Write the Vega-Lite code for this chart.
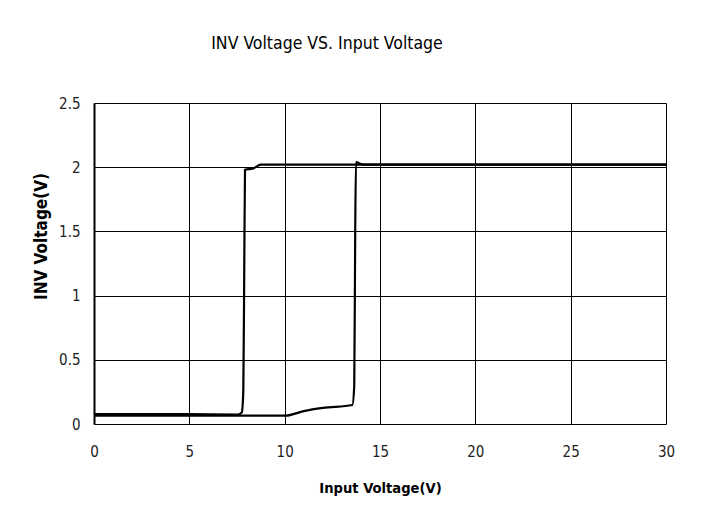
{
  "$schema": "https://vega.github.io/schema/vega-lite/v6.json",
  "width": 572,
  "height": 321,
  "autosize": {"type": "none"},
  "padding": {"left": 94, "top": 103, "right": 37, "bottom": 95},
  "background": "white",
  "title": {
    "text": "INV Voltage VS. Input Voltage",
    "anchor": "middle",
    "frame": "group",
    "dx": -53,
    "offset": 44,
    "font": "DejaVu Sans Condensed, Liberation Sans, sans-serif",
    "fontSize": 17.5,
    "fontWeight": "normal",
    "color": "#000"
  },
  "config": {
    "view": {"stroke": null},
    "font": "DejaVu Sans Condensed, Liberation Sans, sans-serif",
    "axis": {
      "grid": true,
      "gridColor": "#000",
      "gridOpacity": 1,
      "gridWidth": 1,
      "ticks": false,
      "labelColor": "#222",
      "labelFont": "DejaVu Sans Condensed, Liberation Sans, sans-serif",
      "labelFontSize": 15,
      "labelFlush": false,
      "titleFont": "DejaVu Sans Condensed, Liberation Sans, sans-serif",
      "titleFontSize": 14.6,
      "titleFontWeight": "bold",
      "titleColor": "#000"
    }
  },
  "data": {
    "values": [
      {"series": "A", "order": 1, "x": 0, "y": 0.078},
      {"series": "A", "order": 2, "x": 5, "y": 0.077},
      {"series": "A", "order": 3, "x": 7.55, "y": 0.074},
      {"series": "A", "order": 4, "x": 7.75, "y": 0.09},
      {"series": "A", "order": 5, "x": 7.83, "y": 0.25},
      {"series": "A", "order": 6, "x": 7.88, "y": 1.2},
      {"series": "A", "order": 7, "x": 7.92, "y": 1.98},
      {"series": "A", "order": 8, "x": 8.35, "y": 1.99},
      {"series": "A", "order": 9, "x": 8.75, "y": 2.02},
      {"series": "A", "order": 10, "x": 30, "y": 2.02},
      {"series": "B", "order": 1, "x": 0, "y": 0.066},
      {"series": "B", "order": 2, "x": 7.8, "y": 0.066},
      {"series": "B", "order": 3, "x": 10.05, "y": 0.065},
      {"series": "B", "order": 4, "x": 11, "y": 0.1},
      {"series": "B", "order": 5, "x": 12, "y": 0.125},
      {"series": "B", "order": 6, "x": 13.55, "y": 0.148},
      {"series": "B", "order": 7, "x": 13.65, "y": 0.3},
      {"series": "B", "order": 8, "x": 13.7, "y": 1.5},
      {"series": "B", "order": 9, "x": 13.74, "y": 2.04},
      {"series": "B", "order": 10, "x": 14.1, "y": 2.02},
      {"series": "B", "order": 11, "x": 30, "y": 2.02}
    ]
  },
  "mark": {"type": "line", "color": "#000", "strokeWidth": 2.2, "interpolate": "monotone", "clip": true},
  "encoding": {
    "x": {
      "field": "x",
      "type": "quantitative",
      "scale": {"domain": [0, 30], "nice": false, "zero": false},
      "axis": {
        "title": "Input Voltage(V)",
        "values": [0, 5, 10, 15, 20, 25, 30],
        "format": "~g",
        "domain": false,
        "labelPadding": 20,
        "titlePadding": 21
      }
    },
    "y": {
      "field": "y",
      "type": "quantitative",
      "scale": {"domain": [0, 2.5], "nice": false},
      "axis": {
        "title": "INV Voltage(V)",
        "titleFontSize": 17,
        "values": [0, 0.5, 1, 1.5, 2, 2.5],
        "format": "~g",
        "domain": true,
        "domainColor": "#000",
        "domainWidth": 2,
        "labelPadding": 14,
        "titleX": -44,
        "titleY": 133,
        "titleAngle": -90
      }
    },
    "detail": {"field": "series"},
    "order": {"field": "order"}
  }
}
